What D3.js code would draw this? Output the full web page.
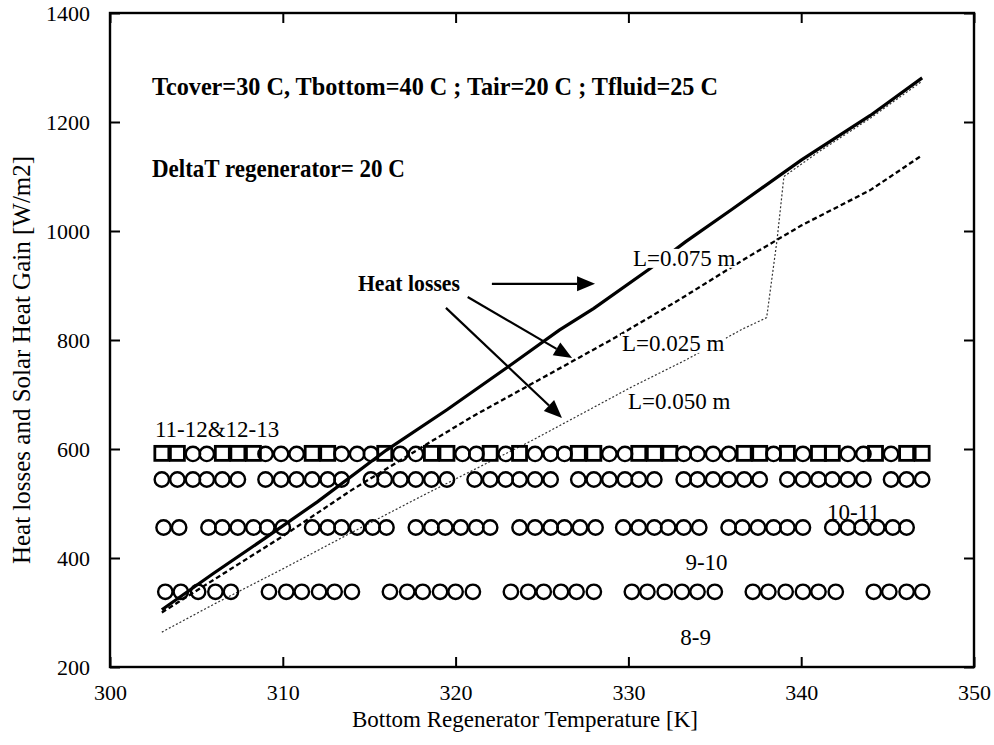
<!DOCTYPE html>
<html><head><meta charset="utf-8">
<script src="https://cdn.jsdelivr.net/npm/d3@7"></script>
<style>
body{margin:0;background:#fff}
svg{display:block}
text{font-family:"Liberation Serif","Times New Roman",serif;fill:#000}
</style>
</head><body>
<svg id="c" width="994" height="745"></svg>
<script>
// ---------- data ----------
const xTicks = [300, 310, 320, 330, 340, 350];
const yTicks = [200, 400, 600, 800, 1000, 1200, 1400];

// heat losses, L = 0.075 m (solid)
const T075 = [303.0, 306, 309, 312, 316, 319.5, 323, 326, 328, 331.3, 333.3, 336, 340, 344, 347.0];
const Q075 = [305, 372, 437, 503, 598, 672, 750, 818, 858, 932, 980, 1040, 1130, 1212, 1281];
// heat losses, L = 0.025 m (dashed)
const T025 = [303.0, 306, 310, 314, 318.7, 321, 325, 329.1, 333, 336.8, 340, 344, 347.0];
const Q025 = [300, 360, 440, 525, 616, 660, 730, 802, 875, 950, 1010, 1075, 1139];
// heat losses, L = 0.050 m (dotted)
const T050 = [303.0, 306, 310, 314, 318, 324.5, 330.2, 333.3, 336.6, 338.0, 338.6, 339.0, 341, 344, 347.0];
const Q050 = [264, 315, 380, 447, 513, 617, 714, 763, 820, 841, 983, 1100, 1145, 1207, 1275];

// solar heat gain, hour 11-12 (squares) and 12-13 (circles)
const T1112 = [303.0, 303.9, 306.5, 307.4, 308.3, 311.7, 312.6, 315.9, 318.6, 319.5, 322.0, 323.7, 327.1, 328.0, 330.6, 331.5, 332.4, 336.7, 337.6, 339.2, 341.0, 341.8, 344.3, 346.1, 347.0];
const Q1112 = 592;
const T1213 = [304.8, 305.6, 309.0, 309.9, 310.8, 313.4, 314.3, 315.1, 316.8, 317.7, 320.4, 321.2, 322.9, 324.6, 325.5, 326.3, 328.9, 329.8, 333.2, 334.0, 334.9, 335.8, 338.4, 340.1, 342.7, 343.6, 345.2];
const Q1213 = 591;
// hour 10-11
const T1011 = [303.0, 303.9, 304.8, 305.6, 306.5, 307.4,
  309.0, 309.9, 310.8, 311.7, 312.6, 313.4,
  315.1, 315.9, 316.8, 317.7, 318.6, 319.5,
  321.1, 322.0, 322.9, 323.7, 324.6, 325.5,
  327.1, 328.0, 328.9, 329.8, 330.6, 331.5,
  333.2, 334.0, 334.9, 335.8, 336.7, 337.6,
  339.2, 340.1, 341.0, 341.8, 342.7, 343.6,
  345.2, 346.1, 347.0];
const Q1011 = 544;
// hour 9-10
const T910 = [303.1, 304.0,
  305.7, 306.5, 307.4, 308.3, 309.1, 310.0,
  311.7, 312.6, 313.4, 314.3, 315.2, 316.0,
  317.7, 318.6, 319.4, 320.3, 321.2, 322.0,
  323.7, 324.6, 325.5, 326.3, 327.2, 328.1,
  329.7, 330.6, 331.5, 332.3, 333.2, 334.1,
  335.8, 336.6, 337.5, 338.4, 339.2, 340.1,
  341.8, 342.7, 343.5, 344.4, 345.3, 346.1];
const Q910 = 456;
// hour 8-9
const T89 = [303.2, 304.1, 305.1, 306.1, 307.0,
  309.2, 310.2, 311.1, 312.1, 313.0, 314.0,
  316.2, 317.2, 318.1, 319.1, 320.0, 321.0,
  323.2, 324.2, 325.1, 326.1, 327.0, 328.0,
  330.2, 331.1, 332.1, 333.1, 334.0, 335.0,
  337.2, 338.1, 339.1, 340.1, 341.0, 342.0,
  344.2, 345.1, 346.1, 347.0];
const Q89 = 338;

// ---------- chart ----------
const svg = d3.select("#c");
const x = d3.scaleLinear().domain([300, 350]).range([110, 974]);
const y = d3.scaleLinear().domain([200, 1400]).range([667, 13]);

const TICKFS = 22;
const gB = svg.append("g").attr("transform", "translate(0,667)")
  .call(d3.axisBottom(x).tickValues(xTicks).tickSize(-10).tickPadding(17).tickFormat(d3.format("d")));
const gT = svg.append("g").attr("transform", "translate(0,13)")
  .call(d3.axisTop(x).tickValues(xTicks).tickSize(-10).tickFormat(""));
const gL = svg.append("g").attr("transform", "translate(110,0)")
  .call(d3.axisLeft(y).tickValues(yTicks).tickSize(-10).tickPadding(20).tickFormat(d3.format("d")));
const gR = svg.append("g").attr("transform", "translate(974,0)")
  .call(d3.axisRight(y).tickValues(yTicks).tickSize(-10).tickFormat(""));
[gB, gT, gL, gR].forEach(g => {
  g.select(".domain").remove();
  g.selectAll(".tick line").attr("stroke", "#000").attr("stroke-width", 2);
  g.selectAll("text").attr("font-size", TICKFS).attr("font-family", '"Liberation Serif","Times New Roman",serif').attr("fill", "#000");
});
svg.append("rect").attr("x", x(300)).attr("y", y(1400))
  .attr("width", x(350) - x(300)).attr("height", y(200) - y(1400))
  .attr("fill", "none").attr("stroke", "#000").attr("stroke-width", 2.4);

// axis titles
svg.append("text").attr("x", 525).attr("y", 727).attr("text-anchor", "middle")
  .attr("font-size", 23).text("Bottom Regenerator Temperature [K]");
svg.append("text").attr("transform", "translate(30,360) rotate(-90)").attr("text-anchor", "middle")
  .attr("font-size", 25).text("Heat losses and Solar Heat Gain [W/m2]");

// lines
const line = d3.line().x(d => x(d[0])).y(d => y(d[1]));
const zip = (a, b) => a.map((v, i) => [v, b[i]]);
svg.append("path").datum(zip(T050, Q050)).attr("d", line)
  .attr("fill", "none").attr("stroke", "#333").attr("stroke-width", 1.2).attr("stroke-dasharray", "2,2");
svg.append("path").datum(zip(T025, Q025)).attr("d", line)
  .attr("fill", "none").attr("stroke", "#000").attr("stroke-width", 2.3).attr("stroke-dasharray", "5,3");
svg.append("path").datum(zip(T075, Q075)).attr("d", line)
  .attr("fill", "none").attr("stroke", "#000").attr("stroke-width", 3.2);

// markers
const R = 7.2;
function circles(T, Q) {
  svg.append("g").selectAll("circle").data(T).join("circle")
    .attr("cx", d => x(d)).attr("cy", y(Q)).attr("r", R)
    .attr("fill", "none").attr("stroke", "#000").attr("stroke-width", 2.4);
}
circles(T89, Q89);
circles(T910, Q910);
circles(T1011, Q1011);
svg.append("g").selectAll("rect").data(T1112).join("rect")
  .attr("x", d => x(d) - 7).attr("y", y(Q1112) - 7).attr("width", 14).attr("height", 14)
  .attr("fill", "none").attr("stroke", "#000").attr("stroke-width", 2.8);
circles(T1213, Q1213);

// annotations (data coords)
const notes = [
  {t: "Tcover=30 C, Tbottom=40 C ; Tair=20 C ; Tfluid=25 C", x: 302.43, y: 1250, bold: true, fs: 25, len: 566},
  {t: "DeltaT regenerator= 20 C", x: 302.43, y: 1099, bold: true, fs: 25, len: 253},
  {t: "Heat losses", x: 314.35, y: 890, bold: true, fs: 23, len: 102},
  {t: "11-12&12-13", x: 302.6, y: 622, fs: 23},
  {t: "10-11", x: 341.5, y: 470, fs: 23},
  {t: "9-10", x: 333.3, y: 378, fs: 23},
  {t: "8-9", x: 333.0, y: 240, fs: 23}
];
notes.forEach(n => {
  const el = svg.append("text").attr("x", x(n.x)).attr("y", y(n.y))
    .attr("font-size", n.fs).attr("font-weight", n.bold ? "bold" : null).text(n.t);
  if (n.len) el.attr("textLength", n.len).attr("lengthAdjust", "spacingAndGlyphs");
});

const lLabels = [
  {t: "L=0.075 m", x: 330.27, y: 936},
  {t: "L=0.025 m", x: 329.63, y: 780},
  {t: "L=0.050 m", x: 329.98, y: 673}
];
lLabels.forEach(n => {
  const el = svg.append("text").attr("x", x(n.x)).attr("y", y(n.y)).attr("font-size", 23).text(n.t);
  const bb = el.node().getBBox();
  svg.insert("rect", () => el.node()).attr("x", bb.x - 1).attr("y", bb.y + 3)
    .attr("width", bb.width + 2).attr("height", bb.height - 6).attr("fill", "#fff");
});

// arrows
const arrows = [
  {x1: 322.1, y1: 903, x2: 328.07, y2: 903},
  {x1: 320.7, y1: 879, x2: 326.74, y2: 767},
  {x1: 319.44, y1: 859, x2: 326.16, y2: 657}
];
arrows.forEach(a => {
  const X1 = x(a.x1), Y1 = y(a.y1), X2 = x(a.x2), Y2 = y(a.y2);
  const ang = Math.atan2(Y2 - Y1, X2 - X1);
  const L = 18, W = 7.5;
  const bx = X2 - L * Math.cos(ang), by = Y2 - L * Math.sin(ang);
  svg.append("line").attr("x1", X1).attr("y1", Y1).attr("x2", bx).attr("y2", by)
    .attr("stroke", "#000").attr("stroke-width", 2.2);
  const pts = [[X2, Y2],
    [bx + W * Math.sin(ang), by - W * Math.cos(ang)],
    [bx - W * Math.sin(ang), by + W * Math.cos(ang)]];
  svg.append("polygon").attr("points", pts.map(p => p.join(",")).join(" ")).attr("fill", "#000");
});
</script>
</body></html>
